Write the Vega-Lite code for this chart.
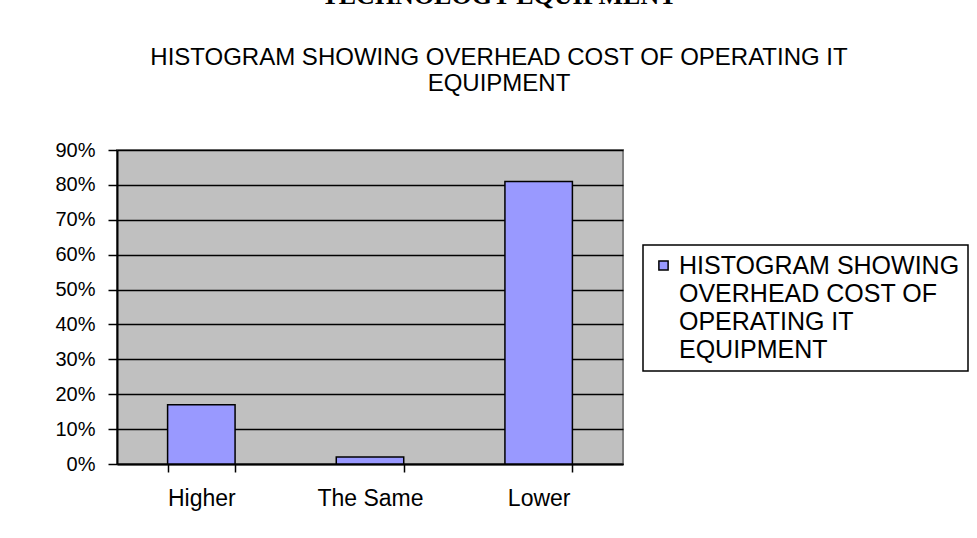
{
  "$schema": "https://vega.github.io/schema/vega-lite/v6.json",
  "autosize": "none",
  "width": 506,
  "height": 314,
  "padding": {"left": 117, "top": 150, "right": 354, "bottom": 74},
  "background": "white",
  "data": {
    "values": [
      {"category": "Higher", "value": 0.17, "series": "HISTOGRAM SHOWING OVERHEAD COST OF OPERATING IT EQUIPMENT"},
      {"category": "The Same", "value": 0.02, "series": "HISTOGRAM SHOWING OVERHEAD COST OF OPERATING IT EQUIPMENT"},
      {"category": "Lower", "value": 0.81, "series": "HISTOGRAM SHOWING OVERHEAD COST OF OPERATING IT EQUIPMENT"}
    ]
  },
  "title": {
    "text": "TECHNOLOGY EQUIPMENT",
    "subtitle": ["HISTOGRAM SHOWING OVERHEAD COST OF OPERATING IT", "EQUIPMENT"],
    "anchor": "middle",
    "dx": 129,
    "offset": 44,
    "font": "Liberation Serif",
    "fontSize": 26,
    "fontWeight": "bold",
    "color": "black",
    "subtitleFont": "Liberation Sans",
    "subtitleFontSize": 24,
    "subtitleLineHeight": 26,
    "subtitleColor": "black",
    "subtitlePadding": 37
  },
  "mark": {"type": "bar", "fill": "#9999FF", "stroke": "black", "strokeWidth": 1.5},
  "encoding": {
    "x": {
      "field": "category",
      "type": "nominal",
      "sort": ["Higher", "The Same", "Lower"],
      "scale": {"paddingInner": 0.6, "paddingOuter": 0.3},
      "axis": {
        "title": null,
        "labelAngle": 0,
        "tickBand": "extent",
        "domainColor": "black",
        "domainWidth": 2,
        "tickColor": "black",
        "tickWidth": 1.5,
        "tickSize": 8,
        "labelFont": "Liberation Sans",
        "labelFontSize": 23,
        "labelColor": "black",
        "labelPadding": 7
      }
    },
    "y": {
      "field": "value",
      "type": "quantitative",
      "scale": {"domain": [0, 0.9], "nice": false},
      "axis": {
        "title": null,
        "values": [0, 0.1, 0.2, 0.3, 0.4, 0.5, 0.6, 0.7, 0.8, 0.9],
        "format": ".0%",
        "grid": true,
        "gridColor": "black",
        "gridWidth": 1.5,
        "gridOpacity": 1,
        "domainColor": "black",
        "domainWidth": 2,
        "tickColor": "black",
        "tickWidth": 1.5,
        "tickSize": 9,
        "labelFont": "Liberation Sans",
        "labelFontSize": 20,
        "labelColor": "black",
        "labelPadding": 13,
        "labelOffset": -8
      }
    },
    "color": {
      "field": "series",
      "type": "nominal",
      "scale": {"range": ["#9999FF"]},
      "legend": {
        "title": null,
        "orient": "none",
        "legendX": 526,
        "legendY": 95,
        "strokeColor": "black",
        "fillColor": "white",
        "padding": 8,
        "symbolType": "square",
        "symbolSize": 85,
        "symbolStrokeColor": "black",
        "symbolOpacity": 1,
        "labelFont": "Liberation Sans",
        "labelFontSize": 25,
        "labelColor": "black",
        "labelLimit": 0,
        "labelOffset": 3,
        "labelBaseline": "alphabetic",
        "labelExpr": "['HISTOGRAM SHOWING', 'OVERHEAD COST OF', 'OPERATING IT', 'EQUIPMENT']"
      }
    }
  },
  "config": {
    "view": {"fill": "#C0C0C0", "stroke": "#808080", "strokeWidth": 2},
    "legend": {"strokeWidth": 1.5, "symbolStrokeWidth": 1.5},
    "style": {"guide-label": {"lineHeight": 28, "dy": 8}}
  }
}
